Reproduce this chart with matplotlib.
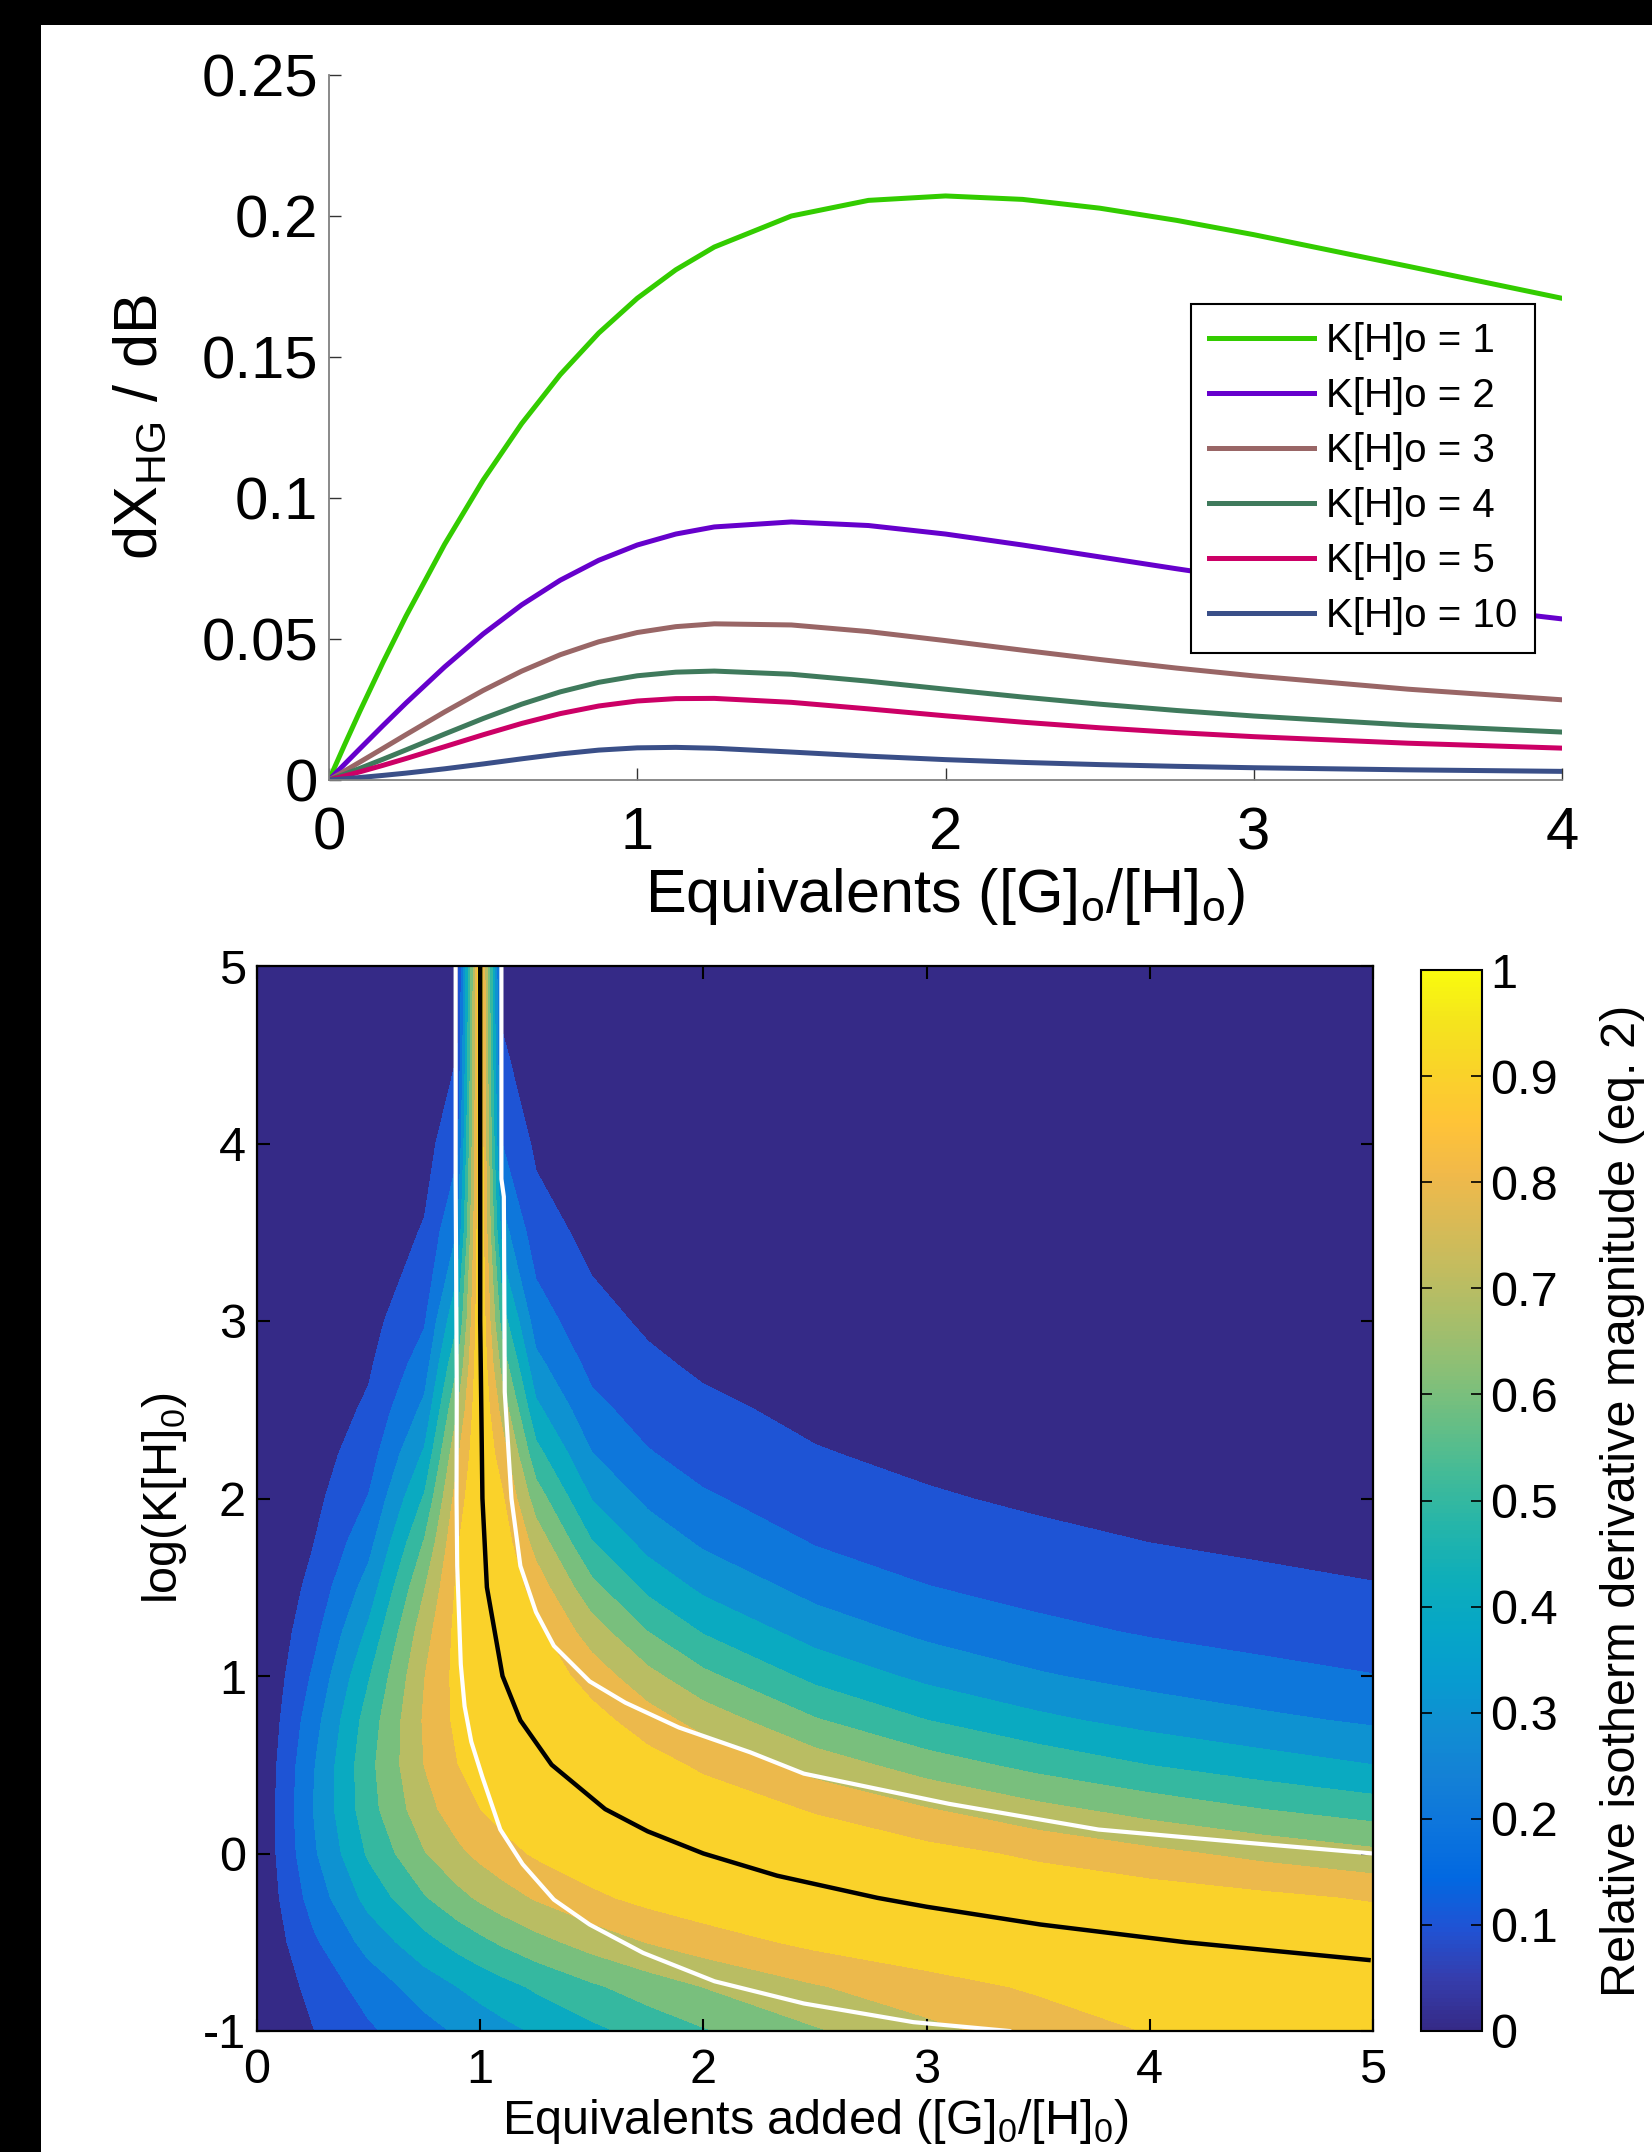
import numpy as np
import matplotlib
matplotlib.use('Agg')
import matplotlib.pyplot as plt
from matplotlib.colors import LinearSegmentedColormap, Normalize
from matplotlib.cm import ScalarMappable
from matplotlib.patches import Rectangle

plt.rcParams['font.family'] = ['Liberation Sans', 'DejaVu Sans']
plt.rcParams['mathtext.fontset'] = 'custom'
plt.rcParams['mathtext.rm'] = 'Liberation Sans'
plt.rcParams['axes.unicode_minus'] = False

# ---------------- top panel: dX_HG/dB against equivalents ----------------
equiv = [0, 0.05, 0.1, 0.175, 0.25, 0.375, 0.5, 0.625, 0.75, 0.875, 1.0, 1.125,
         1.25, 1.5, 1.75, 2.0, 2.25, 2.5, 2.75, 3.0, 3.5, 4.0]
dx_k1 = [0, .01234, .02435, .04168, .05816, .08358, .10634, .12638, .14373, .15849, .17082, .18092,
         .18900, .20000, .20554, .20711, .20589, .20278, .19845, .19338, .18219, .17082]
dx_k2 = [0, .00555, .01108, .01929, .02732, .04008, .05178, .06210, .07084, .07791, .08333, .08722,
         .08974, .09151, .09024, .08722, .08333, .07912, .07490, .07084, .06345, .05712]
dx_k3 = [0, .00315, .00635, .01121, .01610, .02413, .03175, .03860, .04442, .04901, .05230, .05438,
         .05538, .05498, .05263, .04943, .04603, .04274, .03968, .03692, .03221, .02844]
dx_k4 = [0, .00203, .00412, .00735, .01068, .01630, .02180, .02689, .03125, .03464, .03696, .03824,
         .03863, .03750, .03504, .03220, .02942, .02689, .02465, .02269, .01948, .01700]
dx_k5 = [0, .00142, .00289, .00520, .00762, .01181, .01604, .02005, .02354, .02624, .02801, .02886,
         .02894, .02754, .02522, .02276, .02050, .01852, .01682, .01537, .01305, .01130]
dx_k10 = [0, .00043, .00088, .00163, .00244, .00397, .00569, .00751, .00923, .01060, .01140, .01157,
          .01126, .00991, .00845, .00722, .00624, .00546, .00485, .00435, .00360, .00306]
curves = [dx_k1, dx_k2, dx_k3, dx_k4, dx_k5, dx_k10]
curve_labels = ['K[H]o = 1', 'K[H]o = 2', 'K[H]o = 3', 'K[H]o = 4', 'K[H]o = 5', 'K[H]o = 10']
curve_colors = ['#33CC00', '#6600CC', '#996666', '#3F7A5C', '#CC0066', '#3A4F88']
top_yticks = [0, 0.05, 0.1, 0.15, 0.2, 0.25]
top_xticks = [0, 1, 2, 3, 4]

# ---------------- bottom panel: relative derivative map ----------------
eq_grid = [0, 0.1, 0.25, 0.5, 0.75, 0.9, 1.0, 1.1, 1.25, 1.5, 1.75, 2, 2.5, 3, 3.5, 4, 4.5, 5]
logk_grid = [-1, -0.75, -0.5, -0.25, 0, 0.25, 0.5, 0.75, 1, 1.25, 1.5, 1.75,
             2, 2.25, 2.5, 2.75, 3, 3.5, 4, 4.5, 5]
rel_mag = [
    [0, .039, .096, .184, .266, .312, .342, .370, .412, .476, .536, .591, .689, .773, .845, .905, .957, 1.0],
    [0, .053, .129, .244, .345, .401, .435, .468, .515, .585, .647, .702, .792, .861, .914, .953, .981, 1.0],
    [0, .076, .181, .336, .466, .534, .575, .614, .666, .741, .803, .852, .924, .968, .991, .999, .998, .990],
    [0, .100, .238, .434, .591, .669, .715, .756, .809, .879, .929, .963, .996, .998, .981, .955, .923, .889],
    [0, .118, .281, .514, .694, .778, .825, .865, .913, .966, .992, 1.0, .979, .934, .880, .825, .772, .724],
    [0, .122, .299, .561, .764, .853, .899, .936, .973, .999, .993, .967, .889, .805, .727, .659, .600, .550],
    [0, .113, .288, .571, .802, .899, .945, .976, .998, .987, .941, .880, .756, .650, .566, .498, .444, .400],
    [0, .096, .255, .546, .812, .924, .970, .995, .996, .937, .848, .759, .609, .501, .423, .365, .321, .286],
    [0, .076, .211, .491, .797, .933, .984, 1.0, .972, .856, .730, .623, .472, .375, .310, .264, .230, .203],
    [0, .058, .166, .419, .758, .932, .991, .995, .925, .749, .600, .492, .356, .277, .226, .190, .165, .145],
    [0, .044, .127, .341, .694, .920, .995, .981, .855, .628, .475, .377, .265, .203, .164, .138, .119, .104],
    [0, .032, .096, .267, .609, .894, .998, .954, .762, .506, .366, .285, .195, .148, .120, .100, .086, .075],
    [0, .024, .071, .205, .512, .852, .999, .911, .651, .396, .278, .213, .144, .109, .087, .073, .063, .055],
    [0, .018, .053, .155, .414, .788, .999, .847, .534, .303, .208, .158, .106, .080, .064, .054, .046, .040],
    [0, .013, .039, .116, .325, .703, 1.0, .760, .424, .229, .156, .118, .079, .059, .047, .040, .034, .030],
    [0, .010, .029, .087, .250, .602, 1.0, .655, .329, .172, .116, .087, .058, .044, .035, .029, .025, .022],
    [0, .007, .022, .065, .190, .496, 1.0, .543, .251, .129, .087, .065, .043, .033, .026, .022, .019, .016],
    [0, .004, .012, .036, .108, .307, 1.0, .339, .143, .072, .048, .036, .024, .018, .015, .012, .010, .009],
    [0, .002, .007, .020, .060, .178, 1.0, .198, .081, .040, .027, .020, .014, .010, .008, .007, .006, .005],
    [0, .001, .004, .011, .034, .101, 1.0, .112, .045, .023, .015, .011, .008, .006, .005, .004, .003, .003],
    [0, .001, .002, .006, .019, .057, 1.0, .063, .025, .013, .009, .006, .004, .003, .003, .002, .002, .002],
]
# ridge of maximum sensitivity (black) and the two bounding curves (white)
peak_x = [1.0, 1.0, 1.0, 1.01, 1.03, 1.1, 1.18, 1.32, 1.56, 1.75, 2.0, 2.33, 2.78, 3.0, 3.51, 4.16, 4.98]
peak_y = [5.0, 4.0, 3.0, 2.0, 1.5, 1.0, 0.75, 0.5, 0.25, 0.125, 0.0, -0.125, -0.25, -0.3, -0.4, -0.5, -0.6]
lower_x = [0.89, 0.89, 0.895, 0.894, 0.897, 0.913, 0.93, 0.96, 1.01, 1.09, 1.19, 1.33, 1.49, 1.73, 2.05, 2.45, 2.94, 3.37]
lower_y = [5.0, 3.8, 2.6, 2.0, 1.62, 1.065, 0.83, 0.63, 0.43, 0.135, -0.06, -0.26, -0.40, -0.56, -0.72, -0.845, -0.95, -1.0]
upper_x = [1.095, 1.095, 1.106, 1.11, 1.14, 1.18, 1.25, 1.33, 1.49, 1.65, 1.89, 2.21, 2.45, 3.10, 3.77, 4.44, 5.0]
upper_y = [5.0, 3.8, 3.7, 2.6, 2.0, 1.62, 1.36, 1.17, 0.97, 0.85, 0.71, 0.57, 0.45, 0.28, 0.135, 0.06, 0.0]
bottom_xticks = [0, 1, 2, 3, 4, 5]
bottom_yticks = [-1, 0, 1, 2, 3, 4, 5]
cbar_ticks = [0, 0.1, 0.2, 0.3, 0.4, 0.5, 0.6, 0.7, 0.8, 0.9, 1.0]

# parula colour map
parula = LinearSegmentedColormap.from_list('parula', [
    (0.2081, 0.1663, 0.5292), (0.2081, 0.2386, 0.6771), (0.1253, 0.3242, 0.8303),
    (0.0060, 0.4086, 0.8828), (0.0498, 0.4586, 0.8641), (0.0779, 0.5040, 0.8384),
    (0.0641, 0.5570, 0.8240), (0.0265, 0.6137, 0.8135), (0.0228, 0.6535, 0.7768),
    (0.0590, 0.6838, 0.7254), (0.1453, 0.7098, 0.6646), (0.2586, 0.7317, 0.5954),
    (0.3953, 0.7459, 0.5244), (0.5300, 0.7491, 0.4661), (0.6473, 0.7456, 0.4188),
    (0.7525, 0.7384, 0.3768), (0.8507, 0.7299, 0.3360), (0.9450, 0.7261, 0.2886),
    (0.9990, 0.7653, 0.2164), (0.9789, 0.8271, 0.1633), (0.9589, 0.8949, 0.1132),
    (0.9763, 0.9831, 0.0538)])

W, H = 1652, 2152


def px_box(left, top, right, bottom):
    return [left / W, 1 - bottom / H, (right - left) / W, (bottom - top) / H]


fig = plt.figure(figsize=(W / 100, H / 100), dpi=100)

# top panel
ax1 = fig.add_axes(px_box(329, 75, 1562, 780))
for vals, lab, col in zip(curves, curve_labels, curve_colors):
    ax1.plot(equiv, vals, color=col, lw=3.6, label=lab)
ax1.set_xlim(0, 4)
ax1.set_ylim(0, 0.25)
ax1.set_xticks(top_xticks, [f'{t:g}' for t in top_xticks])
ax1.set_yticks(top_yticks, [f'{t:g}' for t in top_yticks])
for side in ['top', 'right']:
    ax1.spines[side].set_visible(False)
for side in ['left', 'bottom']:
    ax1.spines[side].set_color('#808080')
    ax1.spines[side].set_linewidth(1.3)
ax1.tick_params(direction='in', length=8.5, width=1, color='#333333', labelsize=43)
ax1.tick_params(axis='x', pad=19)
ax1.tick_params(axis='y', pad=8)
ax1.set_xlabel(r'Equivalents ([G]$_\mathregular{o}$/[H]$_\mathregular{o}$)', fontsize=44, labelpad=3)
ax1.set_ylabel(r'dX$_\mathregular{HG}$ / dB', fontsize=44, labelpad=22)
leg = ax1.legend(loc='upper left', bbox_to_anchor=(0.699, 0.675), fontsize=29,
                 frameon=True, fancybox=False, edgecolor='black', framealpha=1,
                 handlelength=2.6, handletextpad=0.3, labelspacing=0.42,
                 borderpad=0.45, borderaxespad=0)
leg.get_frame().set_linewidth(1.5)

# bottom panel
ax2 = fig.add_axes(px_box(257, 966, 1373, 2031))
levels = np.linspace(0, 1, 11)
band_colors = [parula(v) for v in levels[:-1]]
ax2.contourf(eq_grid, logk_grid, rel_mag, levels=levels, colors=band_colors, antialiased=False)
ax2.plot(lower_x, lower_y, color='white', lw=3)
ax2.plot(upper_x, upper_y, color='white', lw=3)
ax2.plot(peak_x, peak_y, color='black', lw=3.2)
ax2.set_xlim(0, 5)
ax2.set_ylim(-1, 5)
ax2.set_xticks(bottom_xticks, [f'{t:g}' for t in bottom_xticks])
ax2.set_yticks(bottom_yticks, [f'{t:g}' for t in bottom_yticks])
ax2.tick_params(direction='in', top=True, right=True, length=9, width=1.5, labelsize=35)
ax2.tick_params(axis='x', pad=12)
ax2.tick_params(axis='y', pad=8)
for sp in ax2.spines.values():
    sp.set_linewidth(1.6)
ax2.set_xlabel(r'Equivalents added ([G]$_\mathregular{0}$/[H]$_\mathregular{0}$)', fontsize=35, labelpad=3)
ax2.set_ylabel(r'log(K[H]$_\mathregular{0}$)', fontsize=35, labelpad=10)

# colour bar
cax = fig.add_axes(px_box(1421, 970, 1482, 2031))
cb = fig.colorbar(ScalarMappable(norm=Normalize(0, 1), cmap=parula), cax=cax, ticks=cbar_ticks)
cb.ax.set_yticklabels([f'{t:g}' for t in cbar_ticks])
cax.tick_params(direction='in', left=True, right=True, length=8, width=1.2, labelsize=35, pad=6)
cb.outline.set_linewidth(1.5)
cb.set_label('Relative isotherm derivative magnitude (eq. 2)', fontsize=35, labelpad=30)

# dark frame along the left and top edges
fig.add_artist(Rectangle((0, 0), 41 / W, 1, transform=fig.transFigure,
                         facecolor='black', edgecolor='none', zorder=10))
fig.add_artist(Rectangle((0, 1 - 25 / H), 1, 25 / H, transform=fig.transFigure,
                         facecolor='black', edgecolor='none', zorder=10))

fig.savefig('out.png', dpi=100)
